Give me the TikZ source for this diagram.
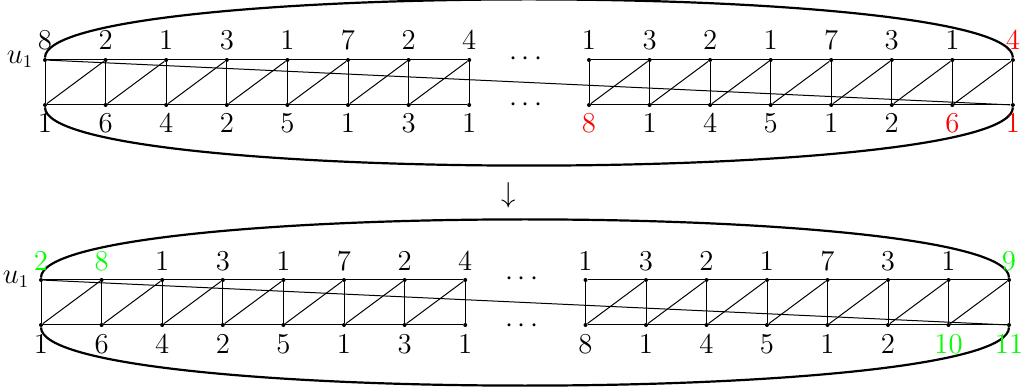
\documentclass[tikz,border=0pt]{standalone}
\usetikzlibrary{calc}
\definecolor{lgreen}{RGB}{0,255,0}
\begin{document}
\begin{tikzpicture}[x=0.5pt,y=-0.5pt,
  every node/.style={font=\fontsize{13.5}{16}\selectfont},
  vtx/.style={circle,fill,inner sep=0pt,minimum size=2pt},
  lab/.style={inner sep=0pt,anchor=base},
  edge/.style={line width=0.5pt},
  blob/.style={line width=1.1pt}]
\useasboundingbox (0,0) rectangle (1021,389);

% ---------- top diagram ----------
\foreach \i in {1,...,8}{
  \node[vtx] (aU\i) at ({45+60.6*(\i-1)},60) {};
  \node[vtx] (aL\i) at ({45+60.6*(\i-1)},105) {};
}
\foreach \i in {9,...,16}{
  \node[vtx] (aU\i) at ({589+60.55*(\i-9)},60) {};
  \node[vtx] (aL\i) at ({589+60.55*(\i-9)},105) {};
}
\foreach \i in {1,...,16}{ \draw[edge] (aU\i) -- (aL\i); }
\draw[edge] (aU1) -- (aU8) (aL1) -- (aL8) (aU9) -- (aU16) (aL9) -- (aL16);
\foreach \i [evaluate=\i as \j using int(\i+1)] in {1,...,7,9,10,...,15}{ \draw[edge] (aL\i) -- (aU\j); }
\draw[edge] (aU1) -- (aL16);
\draw[blob] (aU1) .. controls +(0,-80) and +(0,-80) .. (aU16);
\draw[blob] (aL1) .. controls +(0,80) and +(0,80) .. (aL16);
\foreach \i/\t/\c in {1/8/black,2/2/black,3/1/black,4/3/black,5/1/black,6/7/black,7/2/black,8/4/black,
  9/1/black,10/3/black,11/2/black,12/1/black,13/7/black,14/3/black,15/1/black,16/4/red}{
  \node[lab,text=\c] (aUt\i) at ($(aU\i)+(0,-10)$) {$\t$};
}
\foreach \i/\t/\c in {1/1/black,2/6/black,3/4/black,4/2/black,5/5/black,6/1/black,7/3/black,8/1/black,
  9/8/red,10/1/black,11/4/black,12/5/black,13/1/black,14/2/black,15/6/red,16/1/red}{
  \node[lab,text=\c] (aLt\i) at ($(aL\i)+(0,28)$) {$\t$};
}
\node[inner sep=0pt,anchor=base east] (au1) at ($(aU1)+(-11.5,3.5)$) {$u_1$};
\node[lab] (adotU) at (526,65.5) {$\cdots$};
\node[lab] (adotL) at (526,112) {$\cdots$};

% ---------- arrow ----------
\node[inner sep=0pt] (arr) at (508.5,195) {$\downarrow$};

% ---------- bottom diagram ----------
\foreach \i in {1,...,8}{
  \node[vtx] (bU\i) at ({41+60.6*(\i-1)},280) {};
  \node[vtx] (bL\i) at ({41+60.6*(\i-1)},325) {};
}
\foreach \i in {9,...,16}{
  \node[vtx] (bU\i) at ({585.5+60.5*(\i-9)},280) {};
  \node[vtx] (bL\i) at ({585.5+60.5*(\i-9)},325) {};
}
\foreach \i in {1,...,16}{ \draw[edge] (bU\i) -- (bL\i); }
\draw[edge] (bU1) -- (bU8) (bL1) -- (bL8) (bU9) -- (bU16) (bL9) -- (bL16);
\foreach \i [evaluate=\i as \j using int(\i+1)] in {1,...,7,9,10,...,15}{ \draw[edge] (bL\i) -- (bU\j); }
\draw[edge] (bU1) -- (bL16);
\draw[blob] (bU1) .. controls +(0,-80) and +(0,-80) .. (bU16);
\draw[blob] (bL1) .. controls +(0,80) and +(0,80) .. (bL16);
\foreach \i/\t/\c in {1/2/lgreen,2/8/lgreen,3/1/black,4/3/black,5/1/black,6/7/black,7/2/black,8/4/black,
  9/1/black,10/3/black,11/2/black,12/1/black,13/7/black,14/3/black,15/1/black,16/9/lgreen}{
  \node[lab,text=\c] (bUt\i) at ($(bU\i)+(0,-9)$) {$\t$};
}
\foreach \i/\t/\c in {1/1/black,2/6/black,3/4/black,4/2/black,5/5/black,6/1/black,7/3/black,8/1/black,
  9/8/black,10/1/black,11/4/black,12/5/black,13/1/black,14/2/black,15/10/lgreen,16/11/lgreen}{
  \node[lab,text=\c] (bLt\i) at ($(bL\i)+(0,28.5)$) {$\t$};
}
\node[inner sep=0pt,anchor=base east] (bu1) at ($(bU1)+(-11.5,3.5)$) {$u_1$};
\node[lab] (bdotU) at (522,285.5) {$\cdots$};
\node[lab] (bdotL) at (522,332) {$\cdots$};
\end{tikzpicture}
\end{document}
